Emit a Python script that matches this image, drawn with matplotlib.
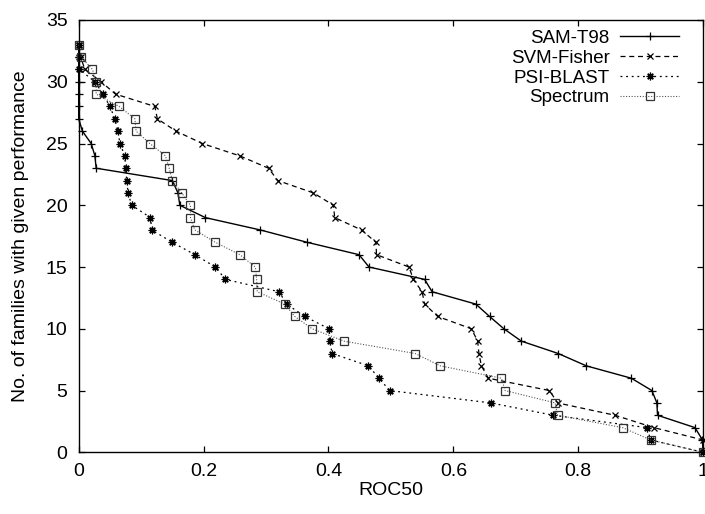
import matplotlib
matplotlib.use("Agg")
import matplotlib.pyplot as plt

plt.rcParams['font.family'] = ['Liberation Sans', 'DejaVu Sans']

counts = list(range(33, -1, -1))

sam_t98 = [0, 0, 0, 0, 0, 0, 0, 0.006, 0.020, 0.026, 0.028, 0.150, 0.159, 0.162,
           0.203, 0.291, 0.366, 0.449, 0.465, 0.554, 0.566, 0.636, 0.658, 0.681,
           0.709, 0.768, 0.813, 0.885, 0.918, 0.926, 0.927, 0.987, 0.999, 1.0]
svm_fisher = [0, 0.003, 0.010, 0.036, 0.059, 0.122, 0.126, 0.156, 0.198, 0.258,
              0.304, 0.319, 0.376, 0.408, 0.410, 0.453, 0.476, 0.477, 0.529, 0.536,
              0.550, 0.554, 0.575, 0.629, 0.639, 0.641, 0.645, 0.656, 0.754, 0.767,
              0.859, 0.921, 1.0, 1.0]
psi_blast = [0, 0, 0.001, 0.026, 0.039, 0.050, 0.058, 0.063, 0.066, 0.074, 0.075,
             0.077, 0.079, 0.085, 0.115, 0.117, 0.150, 0.186, 0.219, 0.235, 0.321,
             0.333, 0.362, 0.401, 0.402, 0.406, 0.464, 0.481, 0.498, 0.660, 0.760,
             0.910, 0.916, 1.0]
spectrum = [0, 0.004, 0.022, 0.028, 0.028, 0.065, 0.090, 0.092, 0.114, 0.139, 0.145,
            0.150, 0.165, 0.179, 0.179, 0.186, 0.219, 0.258, 0.283, 0.285, 0.286,
            0.330, 0.346, 0.374, 0.425, 0.539, 0.579, 0.677, 0.683, 0.763, 0.767,
            0.871, 0.916, 1.0]

fig = plt.figure(figsize=(7.05, 5.14), dpi=100)
ax = fig.add_axes([0.1116, 0.1200, 0.8857, 0.8411])

ax.plot(sam_t98, counts, color='black', lw=1.0, marker='+', ms=6, mew=0.9,
        label='SAM-T98', clip_on=False)
ax.plot(svm_fisher, counts, color='black', lw=0.9, ls=(0, (4, 3)), marker='x',
        ms=4.8, mew=0.9, label='SVM-Fisher', clip_on=False)
ax.plot(psi_blast, counts, color='black', lw=0.9, ls=(0, (1.5, 3)), marker=(8, 2, 0),
        ms=5.5, mew=0.9, label='PSI-BLAST', clip_on=False)
ax.plot(spectrum, counts, color='#555555', lw=0.8, ls=(0, (1, 1.5)), marker='s',
        ms=5.2, mew=0.9, mfc='none', mec='#333333', label='Spectrum', clip_on=False)

ax.set_xlim(0, 1)
ax.set_ylim(0, 35)
ax.set_xticks([0, 0.2, 0.4, 0.6, 0.8, 1])
ax.set_xticklabels(['0', '0.2', '0.4', '0.6', '0.8', '1'])
ax.set_yticks(range(0, 36, 5))
ax.tick_params(direction='in', length=4.5, width=0.9, top=True, right=True,
               labelsize=14)
ax.tick_params(axis='x', pad=8)
ax.tick_params(axis='y', pad=8)
for s in ax.spines.values():
    s.set_linewidth(1.0)

ax.set_xlabel('ROC50', fontsize=14, va='center')
ax.xaxis.set_label_coords(0.5, -0.089)
ax.set_ylabel('No. of families with given performance', fontsize=14, va='center')
ax.yaxis.set_label_coords(-0.093, 0.5)

leg = ax.legend(loc='upper right', bbox_to_anchor=(0.9615, 0.978), frameon=False,
                markerfirst=False, numpoints=1, handlelength=3.15,
                handletextpad=0.55, labelspacing=0.15, fontsize=13.5,
                borderaxespad=0, borderpad=0)

fig.savefig('out.png', dpi=100)
